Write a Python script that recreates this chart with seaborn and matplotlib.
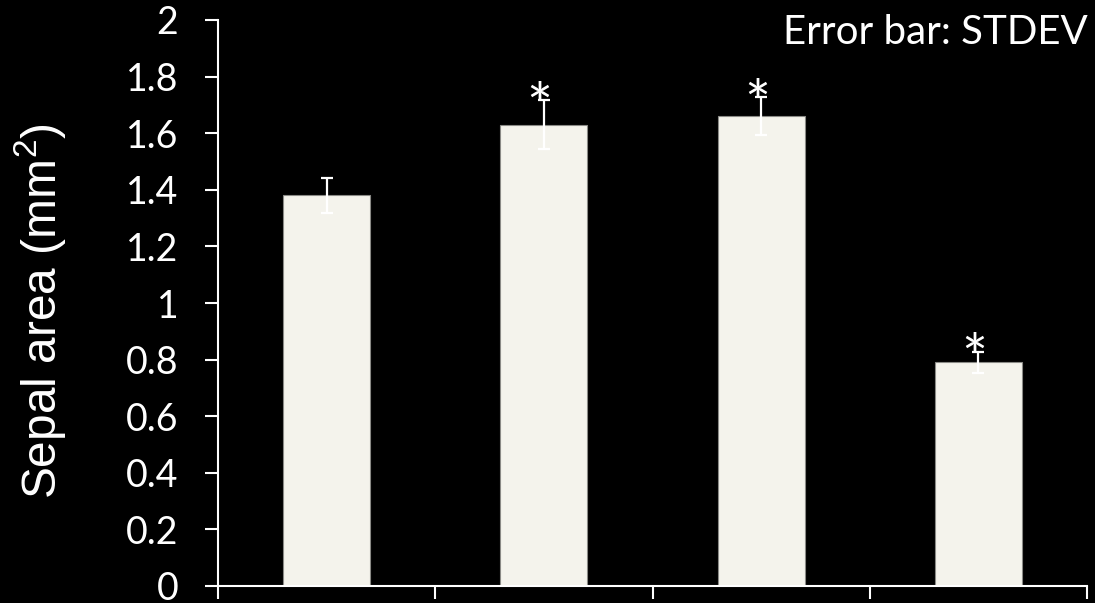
import numpy as np
import pandas as pd
import matplotlib
matplotlib.use("Agg")
import matplotlib.pyplot as plt
from matplotlib.ticker import FuncFormatter, FixedLocator
import seaborn as sns

# Sepal area per line (mean and standard deviation, mm^2)
groups = ["line A", "line B", "line C", "line D"]
sepal_area = [1.38, 1.63, 1.66, 0.79]
sepal_sd = [0.063, 0.087, 0.068, 0.038]
significant = [False, True, True, True]
y_ticks = [0, 0.2, 0.4, 0.6, 0.8, 1.0, 1.2, 1.4, 1.6, 1.8, 2.0]

sns.set_theme(style="white")
plt.rcParams["font.family"] = ["Lato", "DejaVu Sans"]
plt.rcParams["mathtext.fontset"] = "custom"
plt.rcParams["mathtext.rm"] = "Liberation Sans"
plt.rcParams["mathtext.it"] = "Liberation Sans"

df = pd.DataFrame({"group": groups, "area": sepal_area, "sd": sepal_sd})

fig = plt.figure(figsize=(10.95, 6.03), dpi=100, facecolor="black")
ax = fig.add_axes([218 / 1095, 17 / 603, 869 / 1095, 566 / 603])
ax.set_facecolor("black")

bar_color = "#f4f3ec"
sns.barplot(data=df, x="group", y="area", color=bar_color, width=0.4,
            errorbar=None, edgecolor="#8a8a86", linewidth=0.8,
            saturation=1, ax=ax)

ax.errorbar(np.arange(len(groups)), df["area"], yerr=df["sd"], fmt="none",
            ecolor="white", elinewidth=1.6, capsize=4.3, capthick=1.6,
            zorder=5)

for i, (m, s, sig) in enumerate(zip(sepal_area, sepal_sd, significant)):
    if sig:
        ax.annotate("*", xy=(i, m + s), xytext=(-3, -20),
                    textcoords="offset points", ha="center", va="baseline",
                    fontsize=44, color="white", zorder=6)

ax.set_xlim(-0.5, len(groups) - 0.5)
ax.set_ylim(0, 2)
ax.xaxis.set_major_locator(FixedLocator(np.arange(len(groups) + 1) - 0.5))
ax.set_xticklabels([])
ax.set_xlabel("")
ax.yaxis.set_major_locator(FixedLocator(y_ticks))
ax.yaxis.set_major_formatter(FuncFormatter(lambda v, p: f"{v:g}"))

for side in ["top", "right"]:
    ax.spines[side].set_visible(False)
for side in ["left", "bottom"]:
    ax.spines[side].set_color("white")
    ax.spines[side].set_linewidth(1.5)

ax.tick_params(axis="y", direction="out", length=9.5, width=1.5,
               colors="white", labelsize=27, pad=19, left=True)
ax.tick_params(axis="x", direction="out", length=9.5, width=1.5,
               colors="white", bottom=True)

ax.set_ylabel("Sepal area (mm$^2$)", fontsize=34.5, color="white",
              family="Liberation Sans")
ax.yaxis.set_label_coords(-0.173, 0.486)

fig.text(1088 / 1095, (603 - 44) / 603, "Error bar: STDEV", ha="right",
         va="baseline", fontsize=29, color="white")

fig.savefig("out.png", dpi=100, facecolor="black")
